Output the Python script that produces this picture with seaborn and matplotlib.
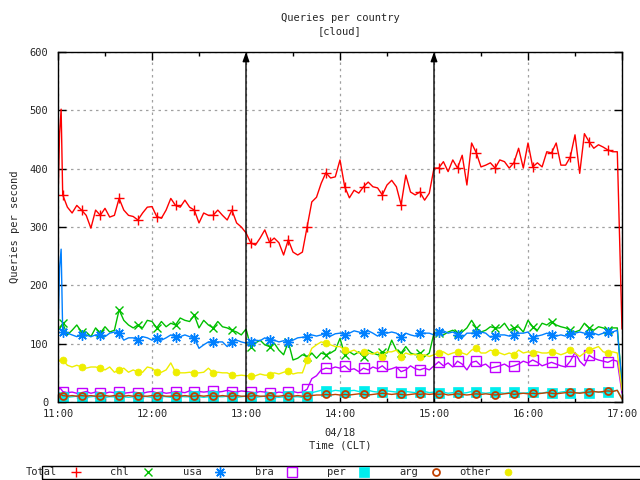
import matplotlib
matplotlib.use("Agg")
import matplotlib.pyplot as plt
from matplotlib.lines import Line2D
from matplotlib.patches import Rectangle
import seaborn as sns
import pandas as pd

# ---------------- data (minutes after 11:00, 04/18) ----------------
minutes = [0, 1, 2] + list(range(3, 361, 3))

total = [345, 460, 502,
         355, 334, 324, 337, 329, 320, 298, 329, 320, 332, 317, 320, 349, 329, 320, 318, 312, 324, 334, 335,
         318, 315, 329, 349, 337, 334, 346, 334, 329, 307, 324, 320, 320, 329, 320, 312, 329, 307, 300, 290,
         273, 269, 281, 295, 274, 281, 273, 252, 278, 257, 252, 257, 300, 343, 351, 375, 393, 384, 386, 415,
         369, 350, 363, 358, 369, 377, 369, 367, 355, 372, 380, 369, 338, 389, 360, 355, 360, 346, 358, 401,
         401, 412, 395, 415, 401, 423, 372, 444, 427, 403, 406, 410, 401, 415, 412, 401, 410, 435, 401, 444,
         403, 410, 403, 429, 427, 444, 406, 406, 420, 458, 392, 460, 446, 435, 441, 437, 432, 429, 429, 125]

chl = [123, 125, 130,
       135, 115, 123, 132, 120, 120, 112, 127, 118, 129, 120, 123, 158, 140, 132, 127, 132, 127, 140, 138,
       127, 138, 129, 135, 132, 144, 140, 138, 149, 127, 140, 132, 127, 138, 129, 127, 123, 120, 115, 125,
       95, 101, 106, 98, 95, 101, 89, 81, 103, 72, 75, 81, 78, 84, 75, 84, 81, 84, 89, 109,
       81, 86, 81, 86, 78, 89, 84, 81, 86, 84, 106, 89, 84, 95, 84, 81, 84, 78, 84, 118,
       118, 115, 120, 123, 118, 120, 127, 140, 127, 120, 123, 129, 127, 127, 135, 123, 127, 129, 120, 140,
       129, 123, 135, 132, 138, 132, 129, 127, 123, 120, 123, 135, 127, 123, 129, 127, 123, 127, 127, 30]

usa = [115, 230, 262,
       120, 118, 115, 112, 115, 115, 112, 115, 115, 112, 118, 120, 118, 106, 110, 110, 106, 112, 110, 106,
       110, 106, 110, 115, 112, 112, 115, 112, 110, 92, 98, 103, 103, 103, 103, 95, 103, 106, 103, 101,
       103, 106, 105, 110, 106, 106, 103, 105, 103, 106, 110, 111, 112, 115, 113, 115, 118, 113, 117, 118,
       115, 118, 122, 120, 118, 122, 118, 113, 120, 118, 120, 118, 111, 118, 115, 113, 118, 118, 118, 115,
       120, 122, 118, 120, 115, 110, 118, 118, 118, 120, 118, 111, 113, 115, 115, 113, 115, 118, 118, 120,
       110, 113, 115, 118, 115, 113, 115, 113, 117, 118, 120, 118, 117, 118, 115, 118, 120, 120, 123, 30]

bra = [20, 24, 22,
       18, 16, 17, 15, 16, 18, 15, 17, 16, 15, 17, 16, 18, 15, 16, 17, 16, 15, 17, 18,
       16, 17, 15, 16, 18, 17, 16, 19, 17, 18, 17, 18, 19, 17, 18, 20, 18, 17, 19, 18,
       17, 16, 18, 17, 16, 15, 17, 16, 17, 18, 16, 17, 22, 40, 45, 55, 58, 57, 60, 58,
       62, 55, 57, 52, 58, 55, 60, 57, 62, 55, 57, 60, 52, 55, 62, 57, 55, 58, 55, 62,
       69, 62, 67, 60, 70, 65, 55, 68, 70, 62, 65, 58, 60, 62, 65, 60, 62, 65, 70, 67,
       72, 68, 62, 65, 68, 65, 62, 60, 70, 85, 70, 62, 80, 75, 72, 70, 68, 72, 70, 15]

per = [10, 12, 11,
       9, 8, 9, 10, 9, 8, 9, 10, 9, 8, 9, 9, 10, 9, 8, 9, 9, 10, 9, 8,
       9, 10, 9, 8, 9, 10, 9, 9, 10, 9, 8, 9, 10, 9, 9, 10, 9, 8, 9, 10,
       9, 8, 9, 10, 9, 9, 8, 9, 10, 9, 9, 8, 10, 16, 18, 20, 19, 18, 20, 19,
       18, 19, 20, 18, 19, 20, 18, 17, 18, 19, 18, 17, 16, 18, 17, 16, 17, 18, 16, 17,
       16, 17, 15, 16, 17, 15, 16, 18, 17, 16, 15, 16, 17, 16, 15, 16, 17, 16, 15, 16,
       17, 16, 15, 17, 16, 15, 17, 18, 16, 15, 16, 17, 16, 18, 17, 16, 18, 19, 20, 5]

arg = [12, 14, 13,
       11, 10, 11, 10, 11, 10, 11, 10, 10, 11, 10, 11, 10, 10, 11, 10, 11, 10, 10, 11,
       10, 11, 10, 10, 11, 10, 11, 10, 10, 11, 10, 11, 10, 10, 11, 10, 10, 11, 10, 10,
       10, 11, 10, 10, 11, 10, 10, 11, 10, 10, 11, 10, 10, 11, 12, 12, 13, 12, 13, 12,
       13, 12, 13, 14, 13, 12, 13, 14, 15, 14, 13, 14, 13, 12, 13, 14, 13, 14, 13, 14,
       13, 14, 12, 13, 14, 13, 12, 13, 14, 13, 14, 13, 12, 13, 14, 15, 13, 14, 15, 14,
       15, 14, 15, 16, 15, 14, 15, 16, 17, 16, 15, 16, 17, 18, 17, 18, 19, 18, 20, 5]

other = [75, 70, 72,
         72, 63, 60, 63, 60, 58, 60, 60, 58, 55, 60, 51, 55, 58, 51, 55, 51, 51, 60, 58,
         51, 51, 55, 67, 51, 50, 50, 51, 50, 50, 51, 58, 50, 51, 50, 50, 46, 45, 46, 45,
         45, 45, 48, 46, 46, 50, 48, 51, 53, 48, 50, 50, 72, 92, 98, 103, 101, 98, 95, 95,
         89, 86, 89, 84, 86, 84, 82, 86, 78, 86, 86, 89, 78, 84, 81, 82, 78, 81, 78, 81,
         84, 86, 81, 84, 86, 84, 81, 89, 92, 84, 84, 89, 86, 84, 81, 84, 81, 89, 84, 86,
         84, 86, 84, 84, 86, 84, 81, 84, 89, 84, 78, 84, 89, 92, 95, 86, 84, 86, 84, 20]

series_names = ["Total", "chl", "usa", "bra", "per", "arg", "other"]
series_values = [total, chl, usa, bra, per, arg, other]

x_ticks = [0, 60, 120, 180, 240, 300, 360]
x_tick_labels = ["11:00", "12:00", "13:00", "14:00", "15:00", "16:00", "17:00"]
y_ticks = [0, 100, 200, 300, 400, 500, 600]
arrow_minutes = [120, 240]

# ---------------- styles ----------------
colors = ["#ff0000", "#00c000", "#0080ff", "#c000ff", "#00eeee", "#c04000", "#eeee00"]
styles = [
    dict(marker="+", ms=7, mew=1.0, filled=True),
    dict(marker="x", ms=6, mew=1.0, filled=True),
    dict(marker=(8, 2, 0), ms=7.5, mew=1.0, filled=True),
    dict(marker="s", ms=6.5, mew=1.0, filled=False),
    dict(marker="s", ms=6.5, mew=0.5, filled=True),
    dict(marker="o", ms=5, mew=1.3, filled=False),
    dict(marker="o", ms=5, mew=0.5, filled=True),
]

sns.set_style("white")
FONT = ["DejaVu Sans Mono"]
plt.rcParams["font.family"] = FONT
FS = 7.5

fig = plt.figure(figsize=(6.4, 4.8), dpi=100)
W, H = 640.0, 480.0
ax = fig.add_axes([58 / W, 1 - 402 / H, 564 / W, 350 / H])

for name, vals, col, st in zip(series_names, series_values, colors, styles):
    df = pd.DataFrame({"minute": minutes, "qps": vals})
    sns.lineplot(data=df, x="minute", y="qps", ax=ax, color=col, lw=1.0,
                 marker=st["marker"], markersize=st["ms"], markeredgewidth=st["mew"],
                 markeredgecolor=col,
                 markerfacecolor=(col if st["filled"] else "none"),
                 markevery=(3, 4), errorbar=None, legend=False, zorder=3)

for m in arrow_minutes:
    ax.annotate("", xy=(m, y_ticks[-1]), xytext=(m, y_ticks[0]),
                arrowprops=dict(arrowstyle="-|>,head_length=0.55,head_width=0.2",
                                color="black", lw=1.0, shrinkA=0, shrinkB=0),
                zorder=4)

ax.set_xlim(x_ticks[0], x_ticks[-1])
ax.set_ylim(y_ticks[0], y_ticks[-1])
ax.set_xticks(x_ticks)
ax.set_xticklabels(x_tick_labels)
ax.set_xticks([30, 90, 150, 210, 270, 330], minor=True)
ax.set_yticks(y_ticks)
ax.set_yticklabels([str(v) for v in y_ticks])
ax.set_xlabel("")
ax.set_ylabel("")
ax.grid(True, which="major", color="#a0a0a0", linestyle=(0, (2, 3)), lw=0.9)
ax.set_axisbelow(True)
ax.tick_params(which="both", direction="in", top=True, right=True,
               bottom=True, left=True, color="black", width=1.0)
ax.tick_params(which="major", length=6)
ax.tick_params(which="minor", length=3)
ax.tick_params(axis="x", labelsize=FS, pad=5)
ax.tick_params(axis="y", labelsize=FS, pad=7)
for sp in ax.spines.values():
    sp.set_color("black")
    sp.set_linewidth(1.0)
    sp.set_zorder(5)

# titles / labels
fig.text(340 / W, 1 - 18 / H, "Queries per country", ha="center", va="center", fontsize=FS)
fig.text(340 / W, 1 - 31 / H, "[cloud]", ha="center", va="center", fontsize=FS)
fig.text(340 / W, 1 - 433 / H, "04/18", ha="center", va="center", fontsize=FS)
fig.text(340 / W, 1 - 446 / H, "Time (CLT)", ha="center", va="center", fontsize=FS)
fig.text(15 / W, 1 - 227 / H, "Queries per second", ha="center", va="center",
         rotation=90, fontsize=FS)

# key box at the bottom
fig.add_artist(Rectangle((42 / W, 1 - 479 / H), 640 / W, 13 / H, transform=fig.transFigure,
                         fill=False, edgecolor="black", lw=1.0, clip_on=False))
ky = 1 - 472 / H
for i, (name, col, st) in enumerate(zip(series_names, colors, styles)):
    tx = (57 + 72.2 * i) / W
    mx = (76 + 72 * i) / W
    fig.text(tx, ky, name, ha="right", va="center", fontsize=FS)
    fig.add_artist(Line2D([mx], [ky], transform=fig.transFigure, linestyle="none",
                          marker=st["marker"], markersize=st["ms"], markeredgewidth=st["mew"],
                          color=col, markeredgecolor=col,
                          markerfacecolor=(col if st["filled"] else "none")))

fig.savefig("out.png", dpi=100)
